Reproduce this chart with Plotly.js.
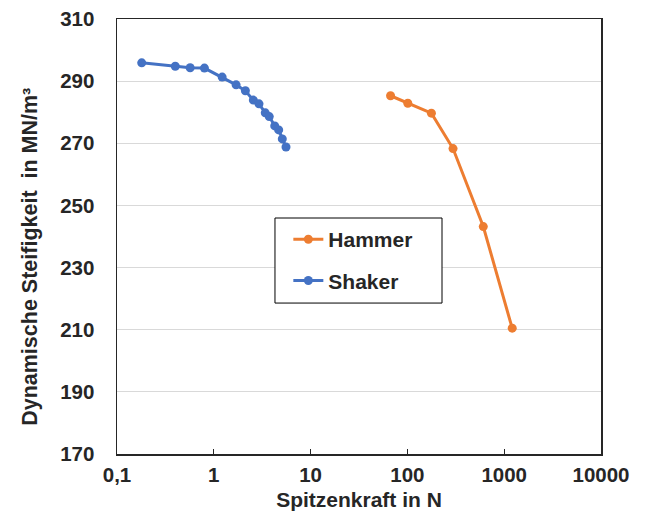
<!DOCTYPE html>
<html>
<head>
<meta charset="utf-8">
<script src="https://cdn.plot.ly/plotly-3.0.1.min.js"></script>
<style>html,body{margin:0;padding:0;background:#fff;}#chart{width:649px;height:521px;}</style>
</head>
<body>
<div id="chart"></div>
<script>
const shakerForce = [0.18, 0.40, 0.57, 0.80, 1.22, 1.70, 2.12, 2.56, 2.93, 3.40, 3.74, 4.26, 4.68, 5.10, 5.57];
const shakerStiffness = [295.9, 294.8, 294.3, 294.2, 291.3, 288.8, 286.9, 283.9, 282.7, 279.8, 278.6, 275.6, 274.3, 271.4, 268.8];
const hammerForce = [67, 101, 177, 296, 608, 1210];
const hammerStiffness = [285.3, 282.9, 279.7, 268.3, 243.2, 210.5];
const xTickVals = [0.1, 1, 10, 100, 1000, 10000];
const xTickLabels = ["0,1", "1", "10", "100", "1000", "10000"];
const yTickVals = [170, 190, 210, 230, 250, 270, 290, 310];

const fam = "Liberation Sans, Arial, sans-serif";
const col = "#262626";
const b = s => "<b>" + s + "</b>";

const traces = [
  {x: hammerForce, y: hammerStiffness, name: b("Hammer"), type: "scatter", mode: "lines+markers",
   line: {color: "#ED7D31", width: 3}, marker: {color: "#ED7D31", size: 9}, legendgroup: "h"},
  {x: shakerForce, y: shakerStiffness, name: b("Shaker"), type: "scatter", mode: "lines+markers",
   line: {color: "#4472C4", width: 3}, marker: {color: "#4472C4", size: 9}, legendgroup: "s"}
];

const layout = {
  width: 649, height: 521,
  margin: {l: 117, r: 48, t: 19, b: 67},
  paper_bgcolor: "#fff", plot_bgcolor: "#fff",
  font: {family: fam, size: 20, color: col},
  showlegend: true,
  legend: {x: 0.354, y: 0.54, xanchor: "left", yanchor: "top",
    borderwidth: 0, bgcolor: "rgba(0,0,0,0)",
    font: {family: fam, size: 21, color: col},
    traceorder: "grouped", tracegroupgap: 11},
  shapes: [{type: "rect", xref: "paper", yref: "paper", x0: 0.3264, x1: 0.6715, y0: 0.347, y1: 0.5425,
    line: {color: "#000", width: 1}, fillcolor: "#fff", layer: "above"}],
  xaxis: {type: "log", range: [-1, 4], tickvals: xTickVals, ticktext: xTickLabels.map(b),
    showgrid: false, zeroline: false, showline: true, mirror: true,
    linecolor: col, linewidth: 1.5, ticks: "inside", ticklen: 5, tickcolor: col,
    tickfont: {family: fam, size: 20.5, color: col},
    ticklabelstandoff: 2,
    title: {text: b("Spitzenkraft in N"), font: {family: fam, size: 21, color: col}, standoff: 7}},
  yaxis: {range: [170, 310], tickvals: yTickVals, ticktext: yTickVals.map(v => b(String(v))),
    showgrid: true, gridcolor: "#d9d9d9", gridwidth: 1, zeroline: false,
    showline: true, mirror: true, linecolor: col, linewidth: 1.5, ticks: "",
    tickfont: {family: fam, size: 20.5, color: col},
    ticklabelstandoff: 17},
  annotations: [{text: b("Dynamische Steifigkeit  in MN/m³"), textangle: -90,
    xref: "paper", yref: "paper", x: -0.18, y: 0.453, xanchor: "center", yanchor: "middle",
    showarrow: false, font: {family: fam, size: 21.5, color: col}}]
};

Plotly.newPlot("chart", traces, layout, {displayModeBar: false, staticPlot: true});
</script>
</body>
</html>
